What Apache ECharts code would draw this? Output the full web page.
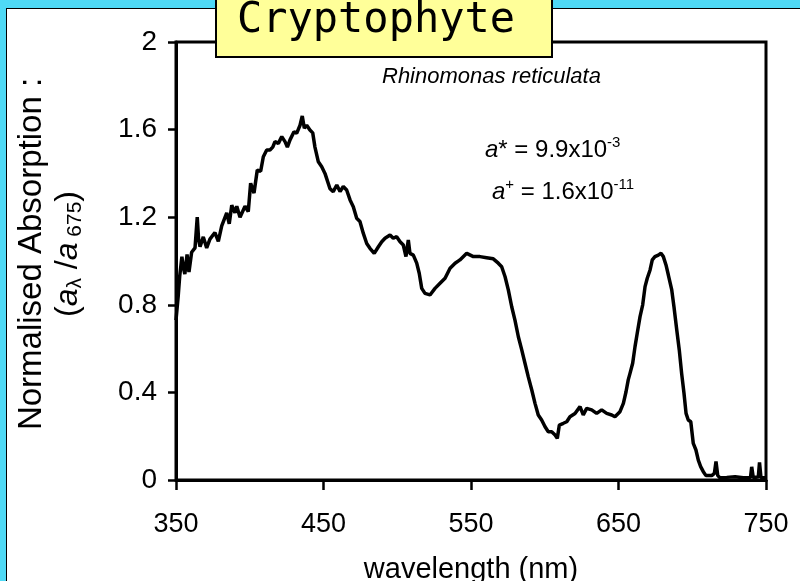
<!DOCTYPE html>
<html>
<head>
<meta charset="utf-8">
<title>Cryptophyte absorption spectrum</title>
<script src="https://cdn.jsdelivr.net/npm/echarts@6/dist/echarts.min.js"></script>
<style>
  html, body { margin: 0; padding: 0; }
  #frame { position: absolute; left: 0; top: 0; width: 800px; height: 581px; overflow: hidden; background: #4fd9f5; }
  #panel { position: absolute; left: 6px; top: 8px; width: 820px; height: 600px; background: #ffffff; border: 1.5px solid #000; box-sizing: border-box; }
  #chart { position: absolute; left: 0; top: 0; width: 800px; height: 581px; }
</style>
</head>
<body>
<div id="frame">
  <div id="panel"></div>
  <div id="chart"></div>
</div>
<script>
// Rhinomonas reticulata: absorption normalised to the 675 nm value
const wavelength = [
  350, 351.5, 352.5, 354, 355, 356, 357.5, 358.8, 360.6, 362.9,
  364.4, 365.3, 366.3, 368.5, 370.8, 373, 376.4, 378.7, 381, 384.4,
  386.1, 387.8, 390, 391.2, 393.4, 396.8, 399, 400.6, 402.9, 405.1,
  407.4, 409.2, 411.5, 413.7, 415.6, 417.1, 419.4, 421.7, 423.9, 425.5,
  427.3, 430, 431.8, 434.1, 435.6, 437, 438.6, 440.8, 442.7, 444.2,
  446.5, 448.8, 451, 454.4, 456.6, 459, 461.2, 463.4, 465.7, 468,
  470.2, 472.5, 474.7, 477, 479.3, 481.5, 484.4, 487.2, 489.5, 491.7,
  495.1, 497.3, 499.6, 501.9, 504.1, 505.9, 507.5, 508.6, 510.9, 513.2,
  514.9, 516.6, 518.8, 522.2, 525.6, 529, 532.4, 535.8, 539.2, 542.5,
  547.1, 551.6, 556.1, 560.6, 565.1, 568.5, 570.8, 573.1, 575.3, 577.6,
  579.8, 582.1, 584.4, 586.6, 588.8, 591.2, 593.4, 595.6, 597.9, 600.2,
  602.4, 604.7, 607, 608.5, 609.9, 612.6, 614.9, 617.1, 620.5, 623.9,
  626.1, 628.4, 631.8, 635.2, 638.6, 642, 645.4, 647.6, 651, 653.3,
  655.1, 656.6, 657.8, 659.6, 661.2, 662.7, 664.6, 666.4, 668, 669.5,
  671.4, 672.9, 674.7, 677, 678.8, 680.4, 682.2, 683.8, 686.1, 687.6,
  689.5, 691.2, 692.8, 694.4, 695.8, 697.3, 699, 700.7, 702.5, 704.1,
  705.7, 707.5, 709.3, 713.2, 715, 716.1, 717.3, 718.8, 723.4, 729,
  734.6, 739.5, 740.3, 741.4, 744.8, 745.6, 746.6, 750
];
const absorption = [
  0.73, 0.84, 0.93, 1.02, 0.97, 0.94, 1.03, 0.95, 1.04, 1.06,
  1.20, 1.10, 1.065, 1.11, 1.06, 1.10, 1.13, 1.09, 1.16, 1.22,
  1.17, 1.255, 1.22, 1.25, 1.20, 1.25, 1.225, 1.355, 1.31, 1.415,
  1.41, 1.476, 1.507, 1.507, 1.52, 1.545, 1.537, 1.568, 1.545, 1.52,
  1.553, 1.59, 1.583, 1.62, 1.662, 1.606, 1.62, 1.598, 1.585, 1.52,
  1.453, 1.43, 1.40, 1.33, 1.317, 1.347, 1.317, 1.34, 1.324, 1.279,
  1.248, 1.195, 1.18, 1.126, 1.08, 1.058, 1.035, 1.065, 1.088, 1.104,
  1.119, 1.104, 1.111, 1.088, 1.073, 1.02, 1.096, 1.035, 1.027, 0.99,
  0.944, 0.875, 0.852, 0.845, 0.875, 0.898, 0.921, 0.967, 0.99, 1.005,
  1.035, 1.02, 1.02, 1.015, 1.01, 0.99, 0.974, 0.928, 0.868, 0.791,
  0.73, 0.654, 0.594, 0.533, 0.472, 0.411, 0.35, 0.297, 0.274, 0.243,
  0.22, 0.22, 0.205, 0.19, 0.251, 0.259, 0.266, 0.289, 0.304, 0.335,
  0.297, 0.327, 0.32, 0.304, 0.32, 0.304, 0.297, 0.289, 0.312, 0.35,
  0.403, 0.457, 0.487, 0.533, 0.609, 0.67, 0.746, 0.8, 0.883, 0.921,
  0.959, 1.005, 1.02, 1.027, 1.035, 1.02, 0.982, 0.936, 0.868, 0.791,
  0.685, 0.594, 0.487, 0.396, 0.304, 0.274, 0.266, 0.167, 0.137, 0.091,
  0.061, 0.038, 0.02, 0.02, 0.03, 0.085, 0.02, 0.01, 0.012, 0.015,
  0.01, 0.012, 0.06, 0.01, 0.015, 0.08, 0.01, 0.01
];
const xTickLabels = ['350', '450', '550', '650', '750'];
const yTickLabels = ['0', '0.4', '0.8', '1.2', '1.6', '2'];

// wavelength axis runs from 350 nm; plotted as offset so the 100 nm ticks start at the left edge
const X_START = 350;
const X_STEP = 100;
const seriesData = wavelength.map((w, i) => [w - X_START, absorption[i]]);

const SANS = "'Liberation Sans', Arial, sans-serif";
const chart = echarts.init(document.getElementById('chart'));

chart.setOption({
  animation: false,
  grid: {
    left: 176, right: 34, top: 42, bottom: 101,
    outerBoundsMode: 'none', containLabel: false,
    show: true, borderColor: '#000', borderWidth: 3, backgroundColor: 'transparent'
  },
  xAxis: {
    type: 'value', min: 0, max: 400, interval: X_STEP,
    axisLine: { show: true, lineStyle: { color: '#000', width: 3 } },
    axisTick: { show: true, inside: false, length: 10, lineStyle: { color: '#000', width: 2.5 } },
    splitLine: { show: false },
    axisLabel: {
      margin: 31, color: '#000', fontFamily: SANS, fontSize: 27,
      formatter: v => xTickLabels[Math.round(v / X_STEP)]
    },
    name: 'wavelength (nm)', nameLocation: 'middle', nameGap: 75,
    nameTextStyle: { color: '#000', fontFamily: SANS, fontSize: 29 }
  },
  yAxis: {
    type: 'value', min: 0, max: 2, interval: 0.4,
    axisLine: { show: true, lineStyle: { color: '#000', width: 3 } },
    axisTick: { show: true, inside: false, length: 8, lineStyle: { color: '#000', width: 2.5 } },
    splitLine: { show: false },
    axisLabel: {
      margin: 19, color: '#000', fontFamily: SANS, fontSize: 28,
      formatter: v => yTickLabels[Math.round(v / 0.4)]
    }
  },
  series: [{
    type: 'line', data: seriesData, showSymbol: false, smooth: false,
    lineStyle: { color: '#000', width: 3.5 }, z: 3
  }],
  graphic: [
    {
      type: 'rect', z: 10,
      shape: { x: 216, y: -4, width: 336, height: 61 },
      style: { fill: '#ffff99', stroke: '#000', lineWidth: 2 }
    },
    {
      type: 'text', z: 11, x: 376, y: 21,
      style: {
        text: 'Cryptophyte', fill: '#000', align: 'center', verticalAlign: 'middle',
        font: "42px 'DejaVu Sans Mono', monospace"
      }
    },
    {
      type: 'text', z: 11, x: 50, y: 254, rotation: Math.PI / 2,
      style: {
        text: '{n|Normalised Absorption :}\n{p|(}{i|a}{s|λ}{p| /}{i|a}{s| 675}{p|)}',
        align: 'center', verticalAlign: 'middle', fill: '#000',
        rich: {
          n: { fontFamily: SANS, fontSize: 33, lineHeight: 36, fill: '#000' },
          p: { fontFamily: SANS, fontSize: 32, lineHeight: 36, fill: '#000' },
          i: { fontFamily: SANS, fontSize: 32, lineHeight: 36, fontStyle: 'italic', fill: '#000' },
          s: { fontFamily: SANS, fontSize: 21, lineHeight: 16, verticalAlign: 'bottom', fill: '#000' }
        }
      }
    },
    {
      type: 'text', z: 11, x: 382, y: 77,
      style: {
        text: 'Rhinomonas reticulata', fill: '#000', align: 'left', verticalAlign: 'middle',
        font: "italic 22px 'Liberation Sans', Arial, sans-serif"
      }
    },
    {
      type: 'text', z: 11, x: 485, y: 150,
      style: {
        text: '{i|a}{t|* = 9.9x10}{u|-3}',
        align: 'left', verticalAlign: 'middle', fill: '#000',
        rich: {
          i: { fontFamily: SANS, fontSize: 24, lineHeight: 30, fontStyle: 'italic', fill: '#000' },
          t: { fontFamily: SANS, fontSize: 24, lineHeight: 30, fill: '#000' },
          u: { fontFamily: SANS, fontSize: 15, lineHeight: 15, verticalAlign: 'top', fill: '#000' }
        }
      }
    },
    {
      type: 'text', z: 11, x: 492, y: 192,
      style: {
        text: '{i|a}{u|+}{t| = 1.6x10}{u|-11}',
        align: 'left', verticalAlign: 'middle', fill: '#000',
        rich: {
          i: { fontFamily: SANS, fontSize: 24, lineHeight: 30, fontStyle: 'italic', fill: '#000' },
          t: { fontFamily: SANS, fontSize: 24, lineHeight: 30, fill: '#000' },
          u: { fontFamily: SANS, fontSize: 15, lineHeight: 15, verticalAlign: 'top', fill: '#000' }
        }
      }
    }
  ]
});
</script>
</body>
</html>
